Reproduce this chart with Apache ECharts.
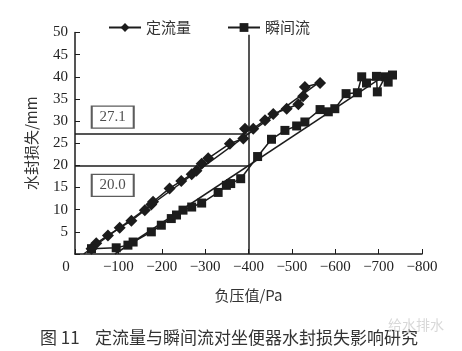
<!DOCTYPE html>
<html>
<head>
<meta charset="utf-8">
<script src="https://cdn.jsdelivr.net/npm/echarts@6/dist/echarts.min.js"></script>
<style>
    html, body { margin: 0; padding: 0; background: #fff; }
    #chart { width: 462px; height: 351px; }
</style>
</head>
<body>
<div id="chart"></div>
<script>
// 定流量（菱形）
const dingPressure = [-38, -49, -76, -103, -130, -161, -176, -180, -218, -245, -269, -280, -292, -307, -357, -388, -392, -411, -438, -457, -488, -515, -526, -530, -565];
const dingLoss     = [1.2, 2.4, 4.2, 5.9, 7.5, 9.9, 11.2, 11.8, 14.8, 16.5, 18.0, 18.8, 20.4, 21.6, 24.9, 26.1, 28.3, 28.3, 30.2, 31.6, 32.8, 33.8, 35.6, 37.7, 38.6];

// 瞬间流（方块）
const shunPressure = [-38, -95, -122, -134, -176, -199, -222, -234, -249, -269, -292, -330, -349, -359, -382, -421, -453, -484, -511, -530, -565, -584, -599, -625, -651, -661, -672, -695, -697, -715, -722, -732];
const shunLoss     = [1.2, 1.4, 2.0, 2.7, 5.0, 6.5, 8.0, 8.8, 9.9, 10.6, 11.5, 13.9, 15.5, 15.9, 17.0, 22.0, 25.9, 27.9, 28.9, 29.8, 32.6, 32.1, 32.8, 36.2, 36.4, 40.0, 38.6, 40.1, 36.6, 40.0, 38.8, 40.4];

// 拟合直线
const dingFitPressure = [-20, -565];
const dingFitLoss     = [0, 38.9];
const shunFitPressure = [-92, -725];
const shunFitLoss     = [0, 41.0];

// 参考线与标注
const refPressure = -400;
const refLoss = [27.1, 20.0];
const refLabels = ['27.1', '20.0'];
const labelBoxLoss = [30.9, 15.5];
const labelBoxPressure = -87;

const xTicks = { min: -800, max: 0, step: 100 };
const yTicks = { min: 0, max: 50, step: 5 };

const zip = (xs, ys) => xs.map((x, i) => [x, ys[i]]);

const serif = "'Liberation Serif', 'Noto Sans CJK SC', serif";
const cjk = "'Noto Sans CJK SC', sans-serif";
const ink = '#1c1c1c';

const chart = echarts.init(document.getElementById('chart'));

const option = {
    animation: false,
    backgroundColor: '#fff',
    grid: { left: 75, right: 40, top: 32.5, bottom: 97 },
    legend: {
        data: ['定流量', '瞬间流'],
        left: 103,
        top: 15,
        itemWidth: 32,
        itemHeight: 11,
        itemGap: 36,
        textStyle: { fontSize: 15, color: '#333', fontFamily: cjk }
    },
    xAxis: {
        type: 'value',
        min: xTicks.min,
        max: xTicks.max,
        interval: xTicks.step,
        inverse: true,
        name: '负压值/Pa',
        nameLocation: 'middle',
        nameGap: 34,
        nameTextStyle: { fontSize: 15, color: '#333', fontFamily: cjk },
        axisLine: { show: true, onZero: false, lineStyle: { color: ink, width: 1.5 } },
        axisTick: { show: true, inside: true, length: 5, lineStyle: { color: ink } },
        axisLabel: {
            fontSize: 15,
            color: '#222',
            fontFamily: serif,
            margin: 6,
            formatter: v => v === 0 ? '{z|0}' : '\u2212' + Math.abs(v),
            rich: { z: { fontSize: 15, fontFamily: serif, color: '#222', padding: [0, 18, 0, 0] } }
        },
        splitLine: { show: false }
    },
    yAxis: {
        type: 'value',
        min: yTicks.min,
        max: yTicks.max,
        interval: yTicks.step,
        name: '水封损失/mm',
        nameLocation: 'middle',
        nameGap: 36,
        nameTextStyle: { fontSize: 15, color: '#333', fontFamily: cjk },
        axisLine: { show: true, lineStyle: { color: ink, width: 1.5 } },
        axisTick: { show: true, inside: true, length: 5, lineStyle: { color: ink } },
        axisLabel: {
            fontSize: 15,
            color: '#222',
            fontFamily: serif,
            margin: 7,
            formatter: v => v === 0 ? '' : String(v)
        },
        splitLine: { show: false }
    },
    series: [
        {
            name: '定流量',
            type: 'line',
            data: zip(dingPressure, dingLoss),
            symbol: 'diamond',
            symbolSize: 12,
            showAllSymbol: true,
            itemStyle: { color: ink },
            lineStyle: { color: ink, width: 1.5 },
            z: 4
        },
        {
            name: '瞬间流',
            type: 'line',
            data: zip(shunPressure, shunLoss),
            symbol: 'rect',
            symbolSize: 9,
            showAllSymbol: true,
            itemStyle: { color: ink },
            lineStyle: { color: ink, width: 1.5 },
            z: 4
        },
        {
            name: 'fit1',
            type: 'line',
            data: zip(dingFitPressure, dingFitLoss),
            symbol: 'none',
            lineStyle: { color: ink, width: 1.5 },
            z: 3
        },
        {
            name: 'fit2',
            type: 'line',
            data: zip(shunFitPressure, shunFitLoss),
            symbol: 'none',
            lineStyle: { color: ink, width: 1.5 },
            z: 3
        },
        {
            name: 'ref',
            type: 'scatter',
            data: labelBoxLoss.map((y, i) => ({ value: [labelBoxPressure, y], label: { formatter: refLabels[i] } })),
            symbol: 'rect',
            symbolSize: [42, 22],
            itemStyle: { color: '#fff', borderColor: '#333', borderWidth: 1.5 },
            label: { show: true, position: 'inside', fontSize: 15, color: '#222', fontFamily: serif },
            z: 5,
            markLine: {
                silent: true,
                symbol: 'none',
                label: { show: false },
                lineStyle: { color: ink, width: 1.5, type: 'solid' },
                data: [
                    [{ coord: [refPressure, 0] }, { coord: [refPressure, 49.5] }],
                    ...refLoss.map(y => [{ coord: [0, y] }, { coord: [refPressure, y] }])
                ]
            }
        }
    ],
    graphic: [
        {
            type: 'text',
            left: 40,
            top: 329,
            style: {
                text: '图 11    定流量与瞬间流对坐便器水封损失影响研究',
                fontSize: 17,
                fill: '#333',
                fontFamily: cjk
            }
        },
        {
            type: 'text',
            left: 388,
            top: 318,
            style: { text: '给水排水', fontSize: 14, fill: '#d8d8d8', fontFamily: cjk },
            z: 10
        }
    ]
};

chart.setOption(option);
</script>
</body>
</html>
